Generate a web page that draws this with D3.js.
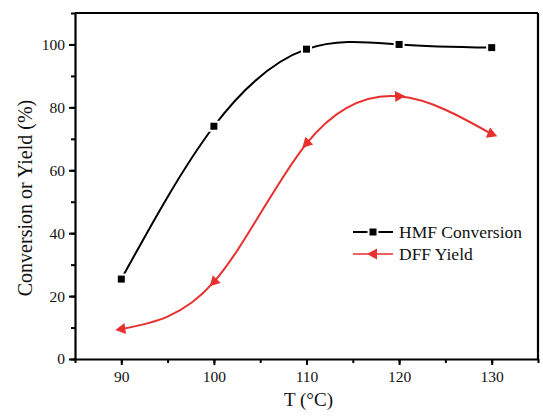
<!DOCTYPE html>
<html>
<head>
<meta charset="utf-8">
<script src="https://cdn.jsdelivr.net/npm/d3@7"></script>
<style>
  body { margin: 0; background: #fff; }
  svg text { font-family: "Liberation Serif", "DejaVu Serif", serif; }
</style>
</head>
<body>
<div id="chart"></div>
<script>
// data
const temps = [90, 100, 110, 120, 130];
const hmfConversion = [25.4, 74, 98.5, 100, 99];
const dffYield = [9.5, 24.5, 68.5, 83.5, 71.5];
const xTicks = [90, 100, 110, 120, 130];
const yTicks = [0, 20, 40, 60, 80, 100];

const width = 543;
const height = 416;
const margin = { top: 13, right: 5, bottom: 57, left: 75 };
const chartWidth = width - margin.left - margin.right;
const chartHeight = height - margin.top - margin.bottom;
const red = '#e8302f';
const serif = '"Liberation Serif", "DejaVu Serif", serif';

const xScale = d3.scaleLinear().domain([85, 135]).range([0, chartWidth]);
const yScale = d3.scaleLinear().domain([0, 110]).range([chartHeight, 0]);

const svg = d3.select('#chart')
  .append('svg')
    .attr('width', width)
    .attr('height', height);

const g = svg.append('g')
  .attr('transform', `translate(${margin.left}, ${margin.top})`);

// minor ticks
g.append('g')
  .attr('transform', `translate(0, ${chartHeight})`)
  .call(d3.axisBottom(xScale).tickValues(d3.range(85, 136, 5)).tickSize(4).tickFormat(''))
  .call(a => a.select('.domain').remove())
  .call(a => a.selectAll('line').attr('stroke-width', 2));
g.append('g')
  .call(d3.axisLeft(yScale).tickValues(d3.range(0, 111, 10)).tickSize(4).tickFormat(''))
  .call(a => a.select('.domain').remove())
  .call(a => a.selectAll('line').attr('stroke-width', 2));

// major axes
const xAxis = g.append('g')
  .attr('transform', `translate(0, ${chartHeight})`)
  .call(d3.axisBottom(xScale).tickValues(xTicks).tickSize(6).tickSizeOuter(0).tickPadding(6));
const yAxis = g.append('g')
  .call(d3.axisLeft(yScale).tickValues(yTicks).tickSize(6).tickSizeOuter(0).tickPadding(4));

[xAxis, yAxis].forEach(a => {
  a.attr('font-family', serif);
  a.select('.domain').attr('stroke-width', 2.2);
  a.selectAll('.tick line').attr('stroke-width', 2);
  a.selectAll('.tick text')
    .attr('font-size', 15.5)
    .attr('font-family', serif)
    .attr('fill', '#111');
});

// top and right frame
g.append('line').attr('x1', 0).attr('x2', chartWidth).attr('y1', 0).attr('y2', 0)
  .attr('stroke', '#000').attr('stroke-width', 2.2);
g.append('line').attr('x1', chartWidth).attr('x2', chartWidth).attr('y1', 0).attr('y2', chartHeight)
  .attr('stroke', '#000').attr('stroke-width', 2.2);

// axis labels
svg.append('text')
  .attr('x', margin.left + chartWidth / 2 + 2)
  .attr('y', 406)
  .attr('text-anchor', 'middle')
  .attr('font-family', serif)
  .attr('font-size', 19)
  .attr('fill', '#111')
  .text('T (°C)');

svg.append('text')
  .attr('transform', 'rotate(-90)')
  .attr('x', -198)
  .attr('y', 32)
  .attr('text-anchor', 'middle')
  .attr('font-family', serif)
  .attr('font-size', 20)
  .attr('fill', '#111')
  .text('Conversion or Yield (%)');

const line = d3.line()
  .x((d, i) => xScale(temps[i]))
  .y(d => yScale(d))
  .curve(d3.curveNatural);

g.append('path')
  .datum(hmfConversion)
  .attr('fill', 'none')
  .attr('stroke', '#000')
  .attr('stroke-width', 2)
  .attr('d', line);

g.append('path')
  .datum(dffYield)
  .attr('fill', 'none')
  .attr('stroke', red)
  .attr('stroke-width', 2)
  .attr('d', line);

// square markers with a white halo (gap in the line)
g.selectAll('.sq')
  .data(hmfConversion)
  .enter()
    .append('rect')
      .attr('x', (d, i) => xScale(temps[i]) - 4.5)
      .attr('y', d => yScale(d) - 4.5)
      .attr('width', 9)
      .attr('height', 9)
      .attr('fill', '#000')
      .attr('stroke', '#fff')
      .attr('stroke-width', 2);

// triangle markers, oriented along the curve
const tri = 'M-6,0 L4,-5.5 L4,5.5 Z';
const pts = dffYield.map((d, i) => [xScale(temps[i]), yScale(d)]);
g.selectAll('.tri')
  .data(pts)
  .enter()
    .append('path')
      .attr('d', tri)
      .attr('fill', red)
      .attr('transform', (p, i) => {
        const a = pts[Math.max(i - 1, 0)];
        const b = pts[Math.min(i + 1, pts.length - 1)];
        let ang = Math.atan2(b[1] - a[1], b[0] - a[0]) * 180 / Math.PI;
        if (i === 0) ang *= 0.3;
        if (i > 2) ang += 180;
        return `translate(${p[0]}, ${p[1]}) rotate(${ang})`;
      });

// legend
const legend = svg.append('g').attr('transform', 'translate(353, 232)');
legend.append('line').attr('x1', 0).attr('x2', 40).attr('y1', 0).attr('y2', 0)
  .attr('stroke', '#000').attr('stroke-width', 2);
legend.append('rect').attr('x', 15.5).attr('y', -4.5).attr('width', 9).attr('height', 9)
  .attr('fill', '#000').attr('stroke', '#fff').attr('stroke-width', 2);
legend.append('text').attr('x', 46).attr('y', 6).attr('font-family', serif)
  .attr('font-size', 17.5).attr('fill', '#111')
  .text('HMF Conversion');
legend.append('line').attr('x1', 0).attr('x2', 40).attr('y1', 22).attr('y2', 22)
  .attr('stroke', red).attr('stroke-width', 1.5);
legend.append('path').attr('d', tri).attr('fill', red)
  .attr('transform', 'translate(20, 22)');
legend.append('text').attr('x', 46).attr('y', 28).attr('font-family', serif)
  .attr('font-size', 17.5).attr('fill', '#111')
  .text('DFF Yield');
</script>
</body>
</html>
